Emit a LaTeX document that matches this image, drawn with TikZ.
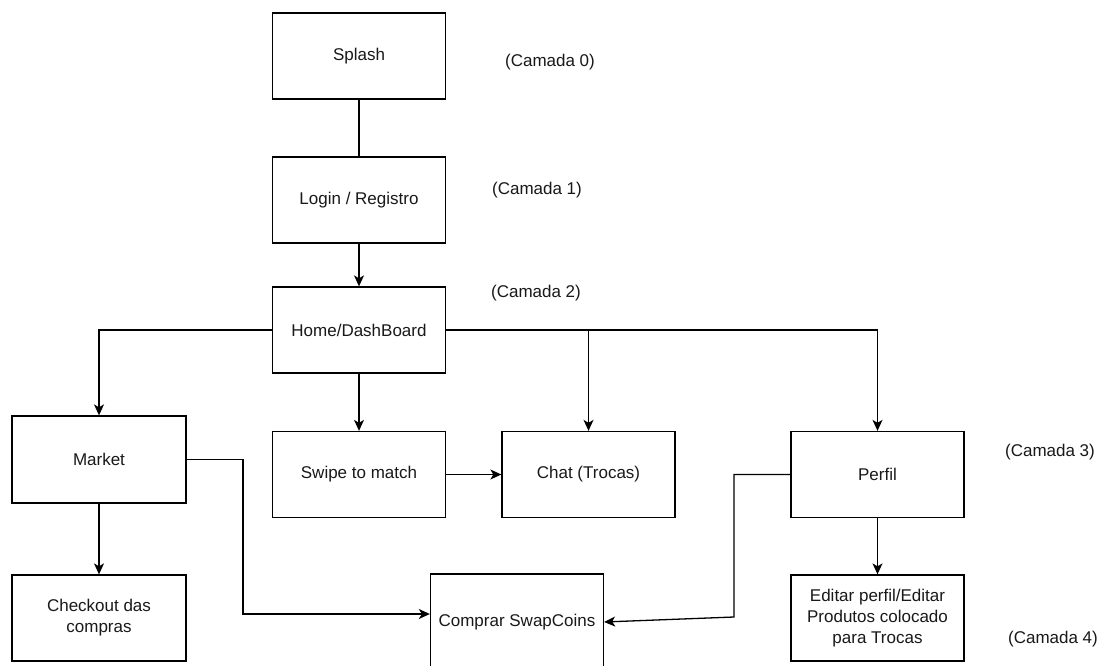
\documentclass[tikz,border=0pt]{standalone}
\usepackage{fontspec}
\setmainfont{Liberation Sans}
\usetikzlibrary{arrows.meta,calc}
\begin{document}
\begin{tikzpicture}[x=1pt,y=-1pt,
  box/.style={draw=black,line width=1.3pt,minimum width=173pt,minimum height=86pt,
    inner sep=2pt,align=center,font=\fontsize{17}{21}\selectfont,text=black!90},
  lbl/.style={font=\fontsize{17}{21}\selectfont,text=black!90,inner sep=0pt},
  conn/.style={draw=black,line width=1.3pt},
  arr/.style={conn,-{Stealth[length=11pt,width=10pt,inset=3pt]}}]
\clip (0,0) rectangle (1100,666);
\fill[white] (0,0) rectangle (1100,666);
% boxes
\node[box] (splash) at (359,56) {Splash};
\node[box] (login) at (359,200) {Login / Registro};
\node[box] (home) at (359,330) {Home/DashBoard};
\node[box,minimum width=174pt,minimum height=87pt] (market) at (99,459.5) {Market};
\node[box] (swipe) at (359,474.5) {Swipe to match};
\node[box] (chat) at (588.5,474.5) {Chat (Trocas)};
\node[box] (perfil) at (877.5,474.5) {Perfil};
\node[box,minimum width=174pt] (checkout) at (99,618) {Checkout das\\compras};
\node[box,minimum height=96pt] (comprar) at (517,622) {Comprar SwapCoins};
\node[box] (editar) at (877.5,618) {Editar perfil/Editar\\Produtos colocado\\para Trocas};
% layer labels
\node[lbl] (c0) at (550,62) {(Camada 0)};
\node[lbl] (c1) at (537,190) {(Camada 1)};
\node[lbl] (c2) at (536,293) {(Camada 2)};
\node[lbl] (c3) at (1050,452) {(Camada 3)};
\node[lbl] (c4) at (1053,639) {(Camada 4)};
% helper coordinates
\coordinate (cin) at ($(comprar.west)+(0,-8)$);
\coordinate (mbend) at (243,459.5);
\coordinate (pbend) at (734,617);
% connectors
\draw[conn] (splash.south) -- (login.north);
\draw[arr] (login.south) -- (home.north);
\draw[arr] (home.west) -| (market.north);
\draw[arr] (home.south) -- (swipe.north);
\draw[arr] (home.east) -| (chat.north);
\draw[arr] (home.east) -| (perfil.north);
\draw[arr] (swipe.east) -- (chat.west);
\draw[arr] (market.south) -- (checkout.north);
\draw[arr] (market.east) -- (mbend) |- (cin);
\draw[arr] (perfil.west) -| (pbend) -- (comprar.east);
\draw[arr] (perfil.south) -- (editar.north);
\end{tikzpicture}
\end{document}
